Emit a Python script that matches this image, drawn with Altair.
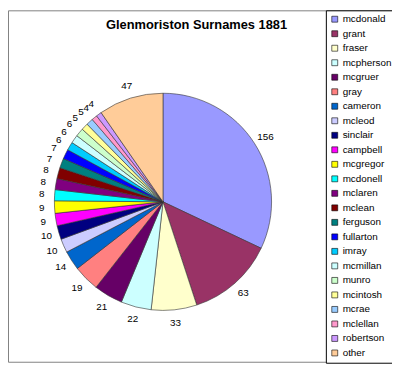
import altair as alt
import pandas as pd

title_text = "Glenmoriston Surnames 1881"
names = ["mcdonald", "grant", "fraser", "mcpherson", "mcgruer", "gray", "cameron",
         "mcleod", "sinclair", "campbell", "mcgregor", "mcdonell", "mclaren", "mclean",
         "ferguson", "fullarton", "imray", "mcmillan", "munro", "mcintosh", "mcrae",
         "mclellan", "robertson", "other"]
counts = [156, 63, 33, 22, 21, 19, 14, 10, 10, 9, 9, 8, 8, 8, 7, 7, 6, 6, 6, 5, 5, 4, 4, 47]
colors = ["#9999FF", "#993366", "#FFFFCC", "#CCFFFF", "#660066", "#FF8080", "#0066CC",
          "#CCCCFF", "#000080", "#FF00FF", "#FFFF00", "#00FFFF", "#800080", "#800000",
          "#008080", "#0000FF", "#00CCFF", "#CCFFFF", "#CCFFCC", "#FFFF99", "#99CCFF",
          "#FF99CC", "#CC99FF", "#FFCC99"]

df = pd.DataFrame({"name": names, "count": counts, "idx": list(range(len(names)))})

FONT = "Liberation Sans"

base = alt.Chart(df).encode(
    theta=alt.Theta("count:Q", stack=True),
    order=alt.Order("idx:Q", sort="ascending"),
    x=alt.value(157),
    y=alt.value(194),
)

pie = base.mark_arc(outerRadius=110, stroke="#333333", strokeWidth=0.6).encode(
    color=alt.Color(
        "name:N",
        scale=alt.Scale(domain=names, range=colors),
        sort=names,
        legend=alt.Legend(
            title=None,
            orient="none",
            legendX=322,
            legendY=0,
            symbolType="square",
            symbolSize=36,
            symbolStrokeColor="#000000",
            symbolStrokeWidth=0.6,
            labelFont=FONT,
            labelFontSize=10,
            labelColor="#000000",
            labelOffset=3,
            rowPadding=4.7,
            padding=4,
            strokeColor="#000000",
            fillColor="#ffffff",
            labelLimit=80,
            symbolOffset=0,
        ),
    )
)

labels = base.mark_text(radius=123, font=FONT, fontSize=10, color="#000000").encode(
    text=alt.Text("count:Q")
)

title = alt.Chart(pd.DataFrame({"t": [title_text]})).mark_text(
    font=FONT, fontSize=13, fontWeight="bold", color="#000000",
    align="center", baseline="alphabetic",
).encode(text="t:N", x=alt.value(191), y=alt.value(19))

chart = alt.layer(pie, labels, title).properties(
    width=389,
    height=356,
    autosize=alt.AutoSizeParams(type="none"),
    padding={"left": 0, "top": 0, "right": 0, "bottom": 5},
    background="#ffffff",
).configure_view(stroke="#808080", strokeWidth=1)

chart.save("out.html", embed_options={"renderer": "svg", "actions": False})
